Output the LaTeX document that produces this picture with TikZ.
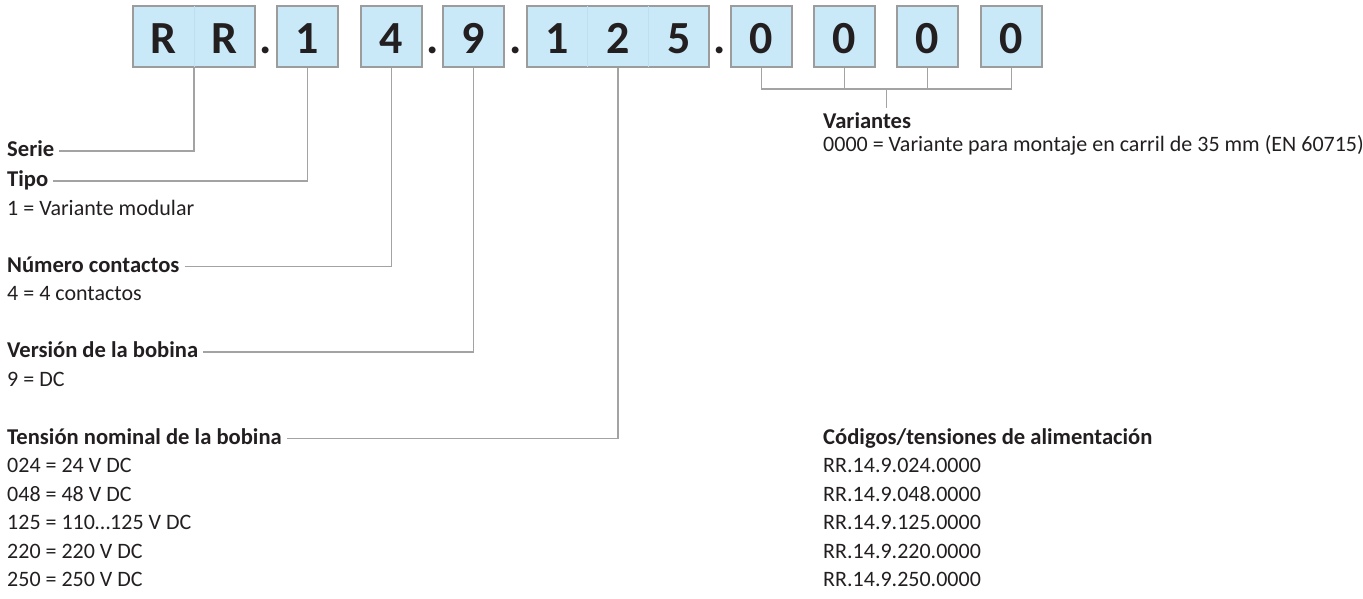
\documentclass[tikz,border=0pt]{standalone}
\usepackage{fontspec}
\setmainfont{Carlito}
\usepackage{tikz}
\usetikzlibrary{positioning}
\usetikzlibrary{calc}

\definecolor{cellblue}{HTML}{C9E9F8}
\definecolor{cellgray}{HTML}{9C9C9C}
\definecolor{cellline}{HTML}{BCE0F0}
\definecolor{linegray}{HTML}{A3A3A3}
\definecolor{ink}{HTML}{231F20}

\tikzset{
  digit/.style={draw=cellgray, fill=cellblue, line width=1.2pt, minimum height=61pt,
    inner sep=0pt, text height=33pt, text depth=0pt, text=ink,
    font=\fontsize{46}{46}\selectfont\bfseries},
  sep/.style={anchor=base, inner sep=0pt, text=ink, font=\fontsize{46}{46}\selectfont\bfseries},
  divider/.style={draw=cellline, line width=0.8pt, shorten <=0.8pt, shorten >=0.8pt},
  title/.style={anchor=base west, inner sep=0pt, text height=16pt, text depth=5pt,
    text=ink, font=\fontsize{22.6}{26}\selectfont\bfseries},
  entry/.style={anchor=base west, inner sep=0pt, text=ink, font=\fontsize{22}{26}\selectfont},
  conn/.style={draw=linegray, line width=1.5pt, shorten <=5pt},
  bar/.style={draw=linegray, line width=1.5pt},
}

\begin{document}
\begin{tikzpicture}[x=1pt,y=-1pt]
\useasboundingbox (0,0) rectangle (1363,599);

% code boxes
\node[digit, minimum width=122pt] (rr) at (194,36.6) {\makebox[61pt]{R}\makebox[61pt]{R}};
\node[digit, minimum width=61pt] (typ) at (307.5,36.6) {1};
\node[digit, minimum width=61pt] (cnt) at (391.5,36.6) {4};
\node[digit, minimum width=61pt] (ver) at (473.5,36.6) {9};
\node[digit, minimum width=182pt] (volt) at (618,36.6) {\makebox[60.67pt]{1}\makebox[60.67pt]{2}\makebox[60.67pt]{5}};
\foreach \x [count=\n] in {761.5,844.5,927.5,1011.5}
  \node[digit, minimum width=61pt] (var\n) at (\x,36.6) {0};

\draw[divider] (rr.north) -- (rr.south);
\draw[divider] ([xshift=-30.33pt]volt.north) -- ([xshift=-30.33pt]volt.south);
\draw[divider] ([xshift=30.33pt]volt.north) -- ([xshift=30.33pt]volt.south);

\foreach \x [count=\n] in {266,432.5,515.5,720}
  \node[sep] (dot\n) at (\x,53.3) {.};

% left column
\node[title] (serie) at (7,156.5) {Serie};
\node[title] (tipo) at (7,186.5) {Tipo};
\node[entry] (tipo1) at (7,215) {1 = Variante modular};
\node[title] (numc) at (7,272) {Número contactos};
\node[entry] (numc1) at (7,300.7) {4 = 4 contactos};
\node[title] (vers) at (7,357.5) {Versión de la bobina};
\node[entry] (vers1) at (7,386) {9 = DC};
\node[title] (tens) at (7,444) {Tensión nominal de la bobina};

% right column
\node[title] (varian) at (823,128.5) {Variantes};
\node[entry] (varian1) at (823,152) {0000 = Variante para montaje en carril de 35 mm (EN 60715)};
\node[title] (codes) at (823,444) {Códigos/tensiones de alimentación};

\foreach \c/\v [count=\i from 0] in {024/24 V DC,048/48 V DC,125/110…125 V DC,220/220 V DC,250/250 V DC} {
  \node[entry] (tens\c) at (7,{472.5+28.5*\i}) {\c\ = \v};
  \node[entry] (code\c) at (823,{472.5+28.5*\i}) {RR.14.9.\c.0000};
}

% connectors
\draw[conn] (serie.east) -| (rr.south);
\draw[conn] (tipo.east) -| (typ.south);
\draw[conn] (numc.east) -| (cnt.south);
\draw[conn] (vers.east) -| (ver.south);
\draw[conn] (tens.east) -| (volt.south);

\coordinate (vbar) at (886.5,89);
\coordinate (vstem) at (886.5,108);
\draw[bar] (var1.south) |- (vbar) -| (var4.south);
\draw[bar] (var2.south) -- (var2.south |- vbar);
\draw[bar] (var3.south) -- (var3.south |- vbar);
\draw[bar] (vbar) -- (vstem);
\end{tikzpicture}
\end{document}
